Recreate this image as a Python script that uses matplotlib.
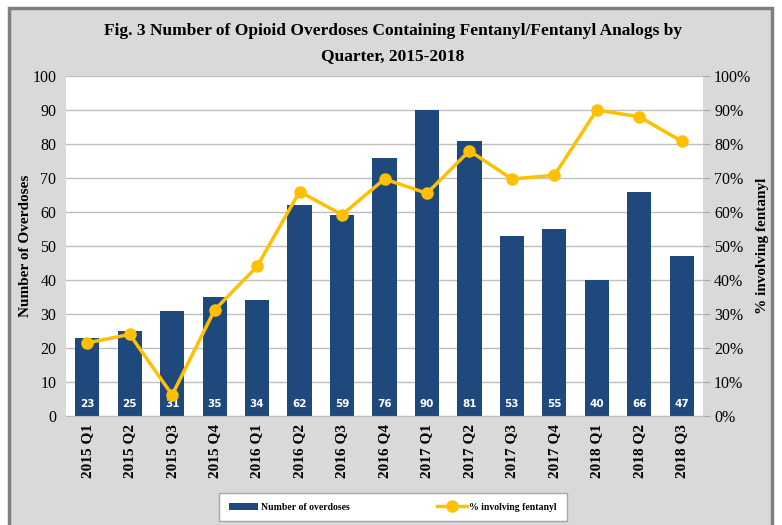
import numpy as np
import matplotlib.pyplot as plt
from matplotlib.patches import Rectangle
from matplotlib.ticker import PercentFormatter

quarters = ['2015 Q1', '2015 Q2', '2015 Q3', '2015 Q4',
            '2016 Q1', '2016 Q2', '2016 Q3', '2016 Q4',
            '2017 Q1', '2017 Q2', '2017 Q3', '2017 Q4',
            '2018 Q1', '2018 Q2', '2018 Q3']
overdoses = [23, 25, 31, 35, 34, 62, 59, 76, 90, 81, 53, 55, 40, 66, 47]
pct_fentanyl = [21.5, 24, 6.2, 31.2, 44, 66, 59.2, 69.7, 65.5, 78, 69.7, 70.8, 90, 88, 80.8]

bar_color = '#1F497D'
line_color = '#FFC000'
bg = '#D9D9D9'
serif = 'Liberation Serif'

fig = plt.figure(figsize=(7.82, 5.25), dpi=100)
fig.patch.set_facecolor('white')
# grey chart panel with dark frame
fig.patches.append(Rectangle((9 / 782, -0.01), 763 / 782, 1 - 8 / 525 + 0.01,
                             transform=fig.transFigure, facecolor=bg,
                             edgecolor='#7F7F7F', linewidth=2.5, zorder=-10))

ax = fig.add_axes([66 / 782, 1 - 416 / 525, 637 / 782, 340 / 525])
ax.set_facecolor('white')
x = np.arange(len(quarters))

bars = ax.bar(x, overdoses, width=0.57, color=bar_color, zorder=2,
              label='Number of overdoses')
for xi, v in zip(x, overdoses):
    ax.text(xi, 3.5, str(v), ha='center', va='center', color='white',
            fontsize=7.5, fontweight='bold', family='DejaVu Sans', zorder=4)

ax.set_xlim(-0.5, len(quarters) - 0.5)
ax.set_ylim(0, 100)
ax.set_yticks(range(0, 101, 10))
ax.grid(axis='y', color='#BFBFBF', linewidth=1, zorder=0)
ax.set_axisbelow(True)
for s in ['top', 'right', 'left']:
    ax.spines[s].set_visible(False)
ax.spines['bottom'].set_color('#BFBFBF')
ax.tick_params(axis='y', length=0, pad=7, labelsize=11.5)
ax.tick_params(axis='x', length=0, pad=6)
ax.set_xticks(x)
ax.set_xticklabels(quarters, rotation=90, fontsize=11, fontweight='bold',
                   family=serif)
for lab in ax.get_yticklabels():
    lab.set_family(serif)
ax.set_ylabel('Number of Overdoses', fontsize=11, fontweight='bold',
              family=serif)
ax.yaxis.set_label_coords(-0.053, 0.5)

ax2 = ax.twinx()
ln, = ax2.plot(x, pct_fentanyl, color=line_color, linewidth=2.5, marker='o',
               markersize=8, zorder=5, label='% involving fentanyl')
ax2.set_ylim(0, 100)
ax2.set_yticks(range(0, 101, 10))
ax2.yaxis.set_major_formatter(PercentFormatter(decimals=0))
for s in ['top', 'left', 'bottom', 'right']:
    ax2.spines[s].set_visible(False)
ax2.tick_params(axis='y', length=5, color='#A6A6A6', labelsize=11.5, pad=3)
for lab in ax2.get_yticklabels():
    lab.set_family(serif)
ax2.set_ylabel('% involving fentanyl', fontsize=11, fontweight='bold',
               family=serif)
ax2.yaxis.set_label_coords(1.083, 0.5)

fig.text(393 / 782, 1 - 31 / 525, 'Fig. 3 Number of Opioid Overdoses Containing Fentanyl/Fentanyl Analogs by',
         ha='center', va='center', fontsize=12.5, fontweight='bold', family=serif)
fig.text(393 / 782, 1 - 56 / 525, 'Quarter, 2015-2018',
         ha='center', va='center', fontsize=12.5, fontweight='bold', family=serif)

leg = fig.legend([bars, ln], ['Number of overdoses', '% involving fentanyl'],
                 loc='center', bbox_to_anchor=(393 / 782, 1 - 507 / 525),
                 ncol=2, frameon=True, fancybox=False, edgecolor='#A6A6A6',
                 facecolor='white', framealpha=1,
                 prop={'family': serif, 'weight': 'bold', 'size': 7},
                 handlelength=3, columnspacing=9, borderpad=1.0,
                 handletextpad=0.3)
leg.get_frame().set_linewidth(1)

fig.savefig('out.png', dpi=100)
